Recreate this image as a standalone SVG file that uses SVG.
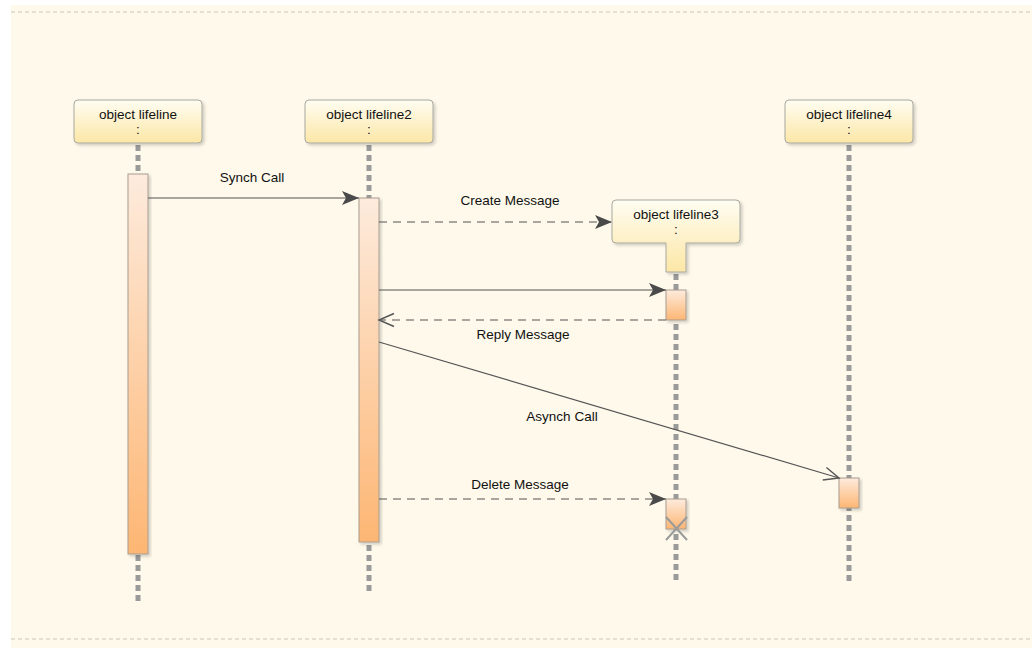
<svg xmlns="http://www.w3.org/2000/svg" width="1032" height="649" viewBox="0 0 1032 649">
<defs>
<linearGradient id="hdr" x1="0" y1="0" x2="0" y2="1">
<stop offset="0" stop-color="#FFFDF2"/>
<stop offset="1" stop-color="#FCE7A6"/>
</linearGradient>
<linearGradient id="act" x1="0" y1="0" x2="0" y2="1">
<stop offset="0" stop-color="#FDEBDD"/>
<stop offset="1" stop-color="#FDB673"/>
</linearGradient>
<filter id="sh" x="-10%" y="-10%" width="130%" height="140%">
<feDropShadow dx="2" dy="2" stdDeviation="1.5" flood-color="#000" flood-opacity="0.18"/>
</filter>
<marker id="filled" markerWidth="18" markerHeight="16" refX="17" refY="8" orient="auto" markerUnits="userSpaceOnUse">
<path d="M0,1 L17,8 L0,15 L4,8 z" fill="#4A4A4A"/>
</marker>
<marker id="open" markerWidth="18" markerHeight="16" refX="16" refY="8" orient="auto" markerUnits="userSpaceOnUse">
<path d="M1,1.5 L16,8 L1,14.5" fill="none" stroke="#555" stroke-width="1.4"/>
</marker>
</defs>
<style>
.hdr{fill:url(#hdr);stroke:#A8A8A0;stroke-width:1;filter:url(#sh)}
.act{fill:url(#act);stroke:#A89C90;stroke-width:1;filter:url(#sh)}
.life{stroke:#9A9A9A;stroke-width:5;stroke-dasharray:6 4;fill:none}
.t{font-family:"Liberation Sans",Arial,sans-serif;font-size:13.5px;fill:#111;text-anchor:middle}
.msg{stroke:#555;stroke-width:1.2;fill:none}
.dash{stroke-dasharray:8 6}
.frame{stroke:#C8C8B8;stroke-width:1;stroke-dasharray:4 3;fill:none}
</style>
<rect x="0" y="0" width="1032" height="649" fill="#FFFFFF"/>
<rect x="11" y="5" width="1021" height="643" fill="#FEF9EA"/>
<line class="frame" x1="11" y1="12" x2="1032" y2="12"/>
<line class="frame" x1="11" y1="639" x2="1032" y2="639"/>

<g id="lifeline1">
<line class="life" x1="138" y1="145" x2="138" y2="604"/>
<rect class="hdr" x="74" y="100" width="128" height="43" rx="4"/>
<text class="t" x="138" y="119">object lifeline</text>
<text class="t" x="138" y="134">:</text>
<rect class="act" x="128" y="174" width="20" height="380"/>
</g>

<g id="lifeline2">
<line class="life" x1="369" y1="145" x2="369" y2="592"/>
<rect class="hdr" x="305" y="100" width="128" height="43" rx="4"/>
<text class="t" x="369" y="119">object lifeline2</text>
<text class="t" x="369" y="134">:</text>
<rect class="act" x="359" y="198" width="20" height="344"/>
</g>

<g id="lifeline3">
<line class="life" x1="676" y1="274" x2="676" y2="580"/>
<path class="hdr" d="M616,200 H736 Q740,200 740,204 V239 Q740,243 736,243 H686 V272 H666 V243 H616 Q612,243 612,239 V204 Q612,200 616,200 Z"/>
<text class="t" x="676" y="219">object lifeline3</text>
<text class="t" x="676" y="234">:</text>
<rect class="act" x="666" y="290" width="20" height="30"/>
<rect class="act" x="666" y="499" width="20" height="30"/>
<path d="M666,517 L687,540 M687,517 L666,540" stroke="#9A9A9A" stroke-width="2" fill="none"/>
</g>

<g id="lifeline4">
<line class="life" x1="849" y1="145" x2="849" y2="582"/>
<rect class="hdr" x="785" y="100" width="128" height="43" rx="4"/>
<text class="t" x="849" y="119">object lifeline4</text>
<text class="t" x="849" y="134">:</text>
<rect class="act" x="839" y="478" width="20" height="30"/>
</g>

<g id="connectors">
<line class="msg" x1="148" y1="198" x2="359" y2="198" marker-end="url(#filled)"/>
<text class="t" x="252" y="182">Synch Call</text>
<line class="msg dash" x1="379" y1="222" x2="612" y2="222" marker-end="url(#filled)"/>
<text class="t" x="510" y="205">Create Message</text>
<line class="msg" x1="379" y1="290" x2="666" y2="290" marker-end="url(#filled)"/>
<line class="msg dash" x1="666" y1="320" x2="379" y2="320" marker-end="url(#open)"/>
<text class="t" x="523" y="339">Reply Message</text>
<line class="msg" x1="379" y1="342" x2="839" y2="478" marker-end="url(#open)"/>
<text class="t" x="562" y="421">Asynch Call</text>
<line class="msg dash" x1="379" y1="499" x2="666" y2="499" marker-end="url(#filled)"/>
<text class="t" x="520" y="489">Delete Message</text>
</g>
</svg>
